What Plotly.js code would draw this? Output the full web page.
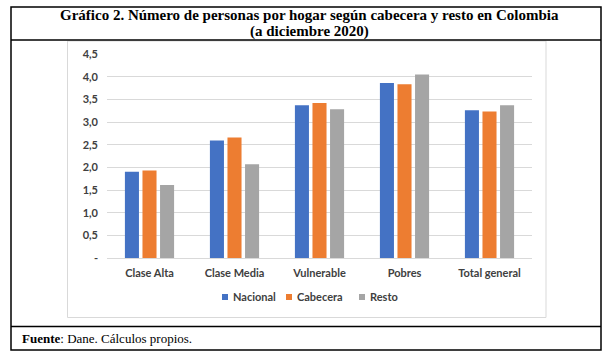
<!DOCTYPE html>
<html>
<head>
<meta charset="utf-8">
<script src="https://cdn.plot.ly/plotly-3.0.1.min.js"></script>
<style>
html,body{margin:0;padding:0;background:#fff;}
#chart{width:612px;height:362px;}
</style>
</head>
<body>
<div id="chart"></div>
<script>
const categories = ['Clase Alta', 'Clase Media', 'Vulnerable', 'Pobres', 'Total general'];
const nacional = [1.90, 2.59, 3.37, 3.86, 3.26];
const cabecera = [1.93, 2.66, 3.42, 3.83, 3.23];
const resto = [1.61, 2.07, 3.28, 4.05, 3.37];
const yTickVals = [0, 0.5, 1, 1.5, 2, 2.5, 3, 3.5, 4, 4.5];
const yTickText = ['-', '0,5', '1,0', '1,5', '2,0', '2,5', '3,0', '3,5', '4,0', '4,5'];
const seriesNames = ['Nacional', 'Cabecera', 'Resto'];
const seriesColors = ['#4472C4', '#ED7D31', '#A5A5A5'];
const legendWidths = [19, 28, 25];

const seriesValues = [nacional, cabecera, resto];
const traces = seriesValues.map((vals, i) => ({
  type: 'bar',
  name: seriesNames[i],
  x: categories,
  y: vals,
  marker: {color: seriesColors[i]},
  legendwidth: legendWidths[i],
  hoverinfo: 'x+y+name'
}));

// plot area: x 107..532, y 54..258
const PL = 107, PR = 532, PT = 54, PB = 258;
const W = 612, H = 362;
const px = v => (v - PL) / (PR - PL);
const py = v => (PB - v) / (PB - PT);

const shapes = [
  {type: 'rect', xref: 'paper', yref: 'paper', x0: px(11), x1: px(601), y0: py(350), y1: py(7),
   line: {color: '#000', width: 1.5}, fillcolor: 'rgba(0,0,0,0)', layer: 'below'},
  {type: 'line', xref: 'paper', yref: 'paper', x0: px(11), x1: px(601), y0: py(40), y1: py(40),
   line: {color: '#000', width: 1.5}},
  {type: 'line', xref: 'paper', yref: 'paper', x0: px(11), x1: px(601), y0: py(326.5), y1: py(326.5),
   line: {color: '#000', width: 1.5}},
  {type: 'rect', xref: 'paper', yref: 'paper', x0: px(67.5), x1: px(546), y0: py(317.5), y1: py(41),
   line: {color: '#D9D9D9', width: 1}, fillcolor: 'rgba(0,0,0,0)', layer: 'below'}
];

const titleFont = {family: 'Liberation Serif, Times New Roman, serif', size: 15, color: '#000'};
const annotations = [
  {xref: 'paper', yref: 'paper', x: px(309), y: py(15), xanchor: 'center', yanchor: 'middle', showarrow: false,
   text: '<b>Gráfico 2. Número de personas por hogar según cabecera y resto en Colombia</b>', font: titleFont},
  {xref: 'paper', yref: 'paper', x: px(309), y: py(32), xanchor: 'center', yanchor: 'middle', showarrow: false,
   text: '<b>(a diciembre 2020)</b>', font: titleFont},
  {xref: 'paper', yref: 'paper', x: px(20), y: py(338), xanchor: 'left', yanchor: 'middle', showarrow: false,
   text: '<b>Fuente</b>: Dane. Cálculos propios.',
   font: {family: 'Liberation Serif, Times New Roman, serif', size: 13, color: '#000'}}
];

const tickFont = {family: 'Lato, Calibri, sans-serif', size: 11, color: '#404040', weight: 'bold'};
const layout = {
  width: W, height: H,
  margin: {l: PL, r: W - PR, t: PT, b: H - PB, pad: 0},
  paper_bgcolor: '#fff', plot_bgcolor: '#fff',
  barmode: 'group', bargap: 0.38, bargroupgap: 0.2,
  font: {family: 'Lato, Calibri, sans-serif', size: 11, color: '#404040'},
  showlegend: true,
  legend: {orientation: 'h', x: px(193), y: py(297), xanchor: 'left', yanchor: 'middle',
           font: tickFont, itemwidth: 30, tracegroupgap: 0, bgcolor: 'rgba(0,0,0,0)'},
  xaxis: {type: 'category', showgrid: false, showline: true, linecolor: '#D9D9D9', linewidth: 1,
          ticks: '', ticklabelstandoff: 5, tickfont: tickFont, fixedrange: true},
  yaxis: {range: [0, 4.5], tickvals: yTickVals, ticktext: yTickText, showgrid: true, gridcolor: '#D9D9D9',
          gridwidth: 1, zeroline: false, showline: false, ticks: '', ticklabelstandoff: 8,
          tickfont: tickFont, fixedrange: true},
  shapes: shapes,
  annotations: annotations
};

Plotly.newPlot('chart', traces, layout, {displayModeBar: false, staticPlot: true}).then(gd => {
  gd.querySelectorAll('.legendpoints path').forEach(p => {
    p.setAttribute('transform', 'translate(32,0) scale(0.5)');
  });
});
</script>
</body>
</html>
